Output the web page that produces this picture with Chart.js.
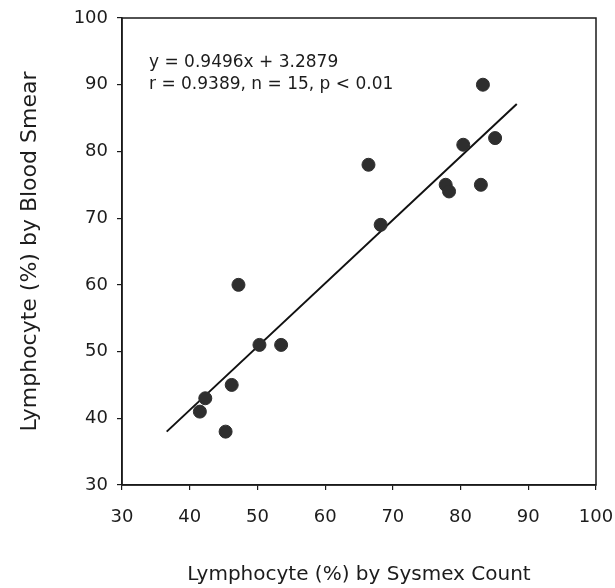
<!DOCTYPE html>
<html>
<head>
<meta charset="utf-8">
<script src="https://cdn.jsdelivr.net/npm/chart.js@4"></script>
<style>
  html, body { margin: 0; padding: 0; background: #ffffff; }
  #wrap { width: 615px; height: 588px; position: relative; }
</style>
</head>
<body>
<div id="wrap"><canvas id="c"></canvas></div>
<script>
// Data
const sysmexCount = [41.5, 42.3, 45.3, 46.2, 47.2, 50.3, 53.5, 66.4, 68.2, 77.8, 78.3, 80.4, 83.0, 83.3, 85.1];
const bloodSmear  = [41.0, 43.0, 38.0, 45.0, 60.0, 51.0, 51.0, 78.0, 69.0, 75.0, 74.0, 81.0, 75.0, 90.0, 82.0];
const fitLineX = [36.6, 88.3];
const fitLineY = [38.0, 87.1];
const axisTicks = [30, 40, 50, 60, 70, 80, 90, 100];
const annotationLines = ["y = 0.9496x + 3.2879", "r = 0.9389, n = 15, p < 0.01"];
const xTitle = "Lymphocyte (%) by Sysmex Count";
const yTitle = "Lymphocyte (%) by Blood Smear";

const FONT = "'DejaVu Sans', 'Liberation Sans', Arial, sans-serif";
const TEXT = '#1c1c1c';

const points = sysmexCount.map((x, i) => ({ x: x, y: bloodSmear[i] }));
const fitPoints = fitLineX.map((x, i) => ({ x: x, y: fitLineY[i] }));

const frameAndText = {
  id: 'frameAndText',
  afterDatasetsDraw(chart) {
    const { ctx, chartArea } = chart;
    ctx.save();
    ctx.strokeStyle = '#1a1a1a';
    ctx.lineWidth = 1.5;
    ctx.strokeRect(chartArea.left, chartArea.top, chartArea.right - chartArea.left, chartArea.bottom - chartArea.top);
    ctx.fillStyle = TEXT;
    ctx.font = "17px " + FONT;
    ctx.textAlign = 'left';
    ctx.textBaseline = 'alphabetic';
    annotationLines.forEach((t, i) => {
      ctx.fillText(t, chartArea.left + 27, chartArea.top + 49 + i * 22);
    });
    ctx.restore();
  }
};

new Chart(document.getElementById('c'), {
  type: 'scatter',
  data: {
    datasets: [
      {
        label: 'Samples',
        data: points,
        backgroundColor: '#2e2e2e',
        borderColor: '#2e2e2e',
        pointRadius: 6.5,
        pointHoverRadius: 6.5,
        order: 1
      },
      {
        type: 'line',
        label: 'Regression',
        data: fitPoints,
        borderColor: '#111111',
        borderWidth: 2,
        pointRadius: 0,
        fill: false,
        tension: 0,
        order: 2
      }
    ]
  },
  options: {
    responsive: true,
    maintainAspectRatio: false,
    animation: false,
    events: [],
    layout: { padding: 0 },
    plugins: {
      legend: { display: false },
      tooltip: { enabled: false },
      title: { display: false }
    },
    scales: {
      x: {
        type: 'linear',
        min: 30, max: 100,
        afterBuildTicks: (s) => { s.ticks = axisTicks.map(v => ({ value: v })); },
        afterFit: (s) => { s.height = 103; s.paddingRight = 19; s.paddingLeft = 0; },
        grid: { drawOnChartArea: false, drawTicks: true, tickLength: 5, color: '#1a1a1a', lineWidth: 1.2 },
        border: { display: true, color: '#1a1a1a', width: 1.5 },
        ticks: { color: TEXT, font: { family: FONT, size: 18 }, padding: 17, maxRotation: 0 },
        title: { display: true, text: xTitle, color: TEXT, font: { family: FONT, size: 20 }, padding: { top: 0, bottom: 1 } }
      },
      y: {
        type: 'linear',
        min: 30, max: 100,
        afterBuildTicks: (s) => { s.ticks = axisTicks.map(v => ({ value: v })); },
        afterFit: (s) => { s.width = 122; s.paddingTop = 18; s.paddingBottom = 0; },
        grid: { drawOnChartArea: false, drawTicks: true, tickLength: 5, color: '#1a1a1a', lineWidth: 1.2 },
        border: { display: true, color: '#1a1a1a', width: 1.5 },
        ticks: { color: TEXT, font: { family: FONT, size: 18 }, padding: 9 },
        title: { display: true, text: yTitle, color: TEXT, font: { family: FONT, size: 22 }, padding: { top: 17, bottom: 0 } }
      }
    }
  },
  plugins: [frameAndText]
});
</script>
</body>
</html>
